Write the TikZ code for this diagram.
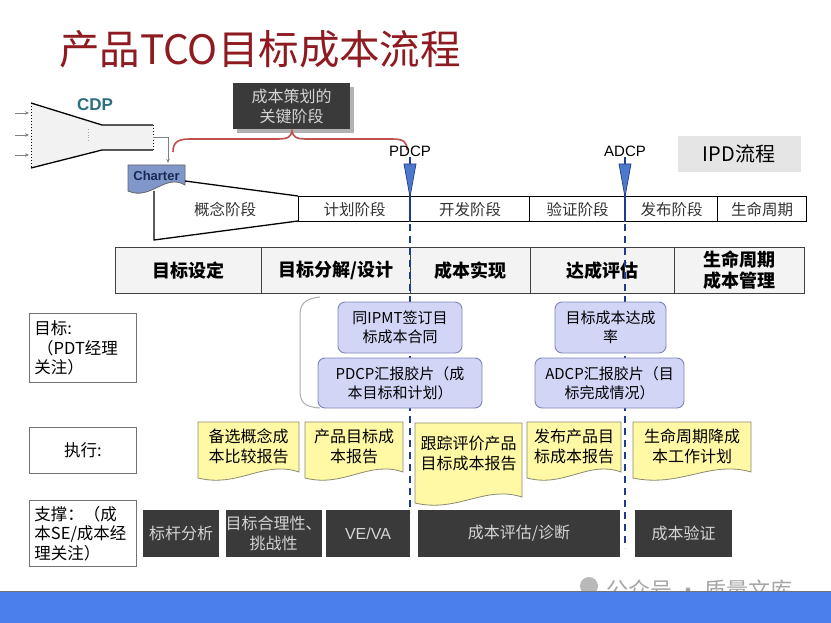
\documentclass[tikz,border=0pt]{standalone}
\usepackage{fontspec}
\setmainfont{Noto Sans CJK SC}
\newfontfamily\arialf{Liberation Sans}
\newcommand\songf{\normalfont}
\usetikzlibrary{arrows.meta}
\definecolor{titlered}{HTML}{8E1B22}
\definecolor{cdpteal}{HTML}{2B6E80}
\definecolor{darkfill}{HTML}{3A3A3A}
\definecolor{darktext}{HTML}{D4D4D4}
\definecolor{lavfill}{HTML}{D3D5F7}
\definecolor{lavline}{HTML}{7F86B5}
\definecolor{docfill}{HTML}{FFF9A6}
\definecolor{docline}{HTML}{8A8A70}
\definecolor{cellfill}{HTML}{F3F3F3}
\definecolor{navy}{HTML}{1F3B8F}
\definecolor{marker}{HTML}{4C7ACB}
\definecolor{charterfill}{HTML}{8097C9}
\definecolor{chartertext}{HTML}{1B2A55}
\definecolor{bandblue}{HTML}{4A7FEC}
\definecolor{bracered}{HTML}{C0504D}
\newcommand\fs[2]{\fontsize{#1}{#2}\selectfont}
% document shape: [style]{xleft}{xright}{ytop}{ybottom}
\newcommand\docshape[5][]{%
  \draw[#1] (#2,#4) -- (#3,#4) -- (#3,{#5-6})
    .. controls ({#3-0.35*(#3-#2)},{#5-18}) and ({#2+0.4*(#3-#2)},{#5+10}) .. (#2,#5) -- cycle;}
\begin{document}
\begin{tikzpicture}[x=1pt,y=-1pt,
  darkbox/.style={fill=darkfill,draw=none,text=darktext,align=center,inner sep=0pt,font=\songf\fs{16}{20}},
  lavbox/.style={fill=lavfill,draw=lavline,line width=0.9pt,rounded corners=7pt,align=center,inner sep=0pt,font=\fs{15}{19}},
  doctext/.style={align=center,inner sep=0pt,font=\fs{16}{20}},
  docstyle/.style={fill=docfill,draw=docline,line width=0.8pt},
  cellbox/.style={fill=cellfill,draw=black!75,line width=0.9pt,align=center,inner sep=0pt,font=\bfseries\fs{18}{21}},
  phasecell/.style={fill=white,draw=black,line width=1.2pt,inner sep=0pt,font=\songf\fs{15.5}{18},text=black!80},
  leftbox/.style={fill=white,draw=black!55,line width=0.9pt,inner sep=4pt,font=\fs{16.5}{19.5}},
  dline/.style={navy,line width=1.4pt,dash pattern=on 7pt off 5pt},
  smallarrow/.style={gray,line width=0.8pt,-{Stealth[length=4pt,width=3.5pt]}}
]
\useasboundingbox (0,0) rectangle (831,623);
\fill[white] (0,0) rectangle (831,623);

% title
\node[anchor=west,inner sep=0pt,text=titlered,font=\fs{40.5}{40.5}] (title) at (59,49) {产品TCO目标成本流程};

% key phase box with shadow
\fill[black!30] (237,87) rectangle (354,133);
\node[darkbox,minimum width=117pt,minimum height=46pt] (keybox) at (291.5,106) {成本策划的\\关键阶段};

% red brace
\draw[bracered,line width=1.6pt]
  (173,152) .. controls (173,142) and (178,139) .. (190,139) -- (278,139)
  .. controls (289,139) and (291,136) .. (292,131)
  .. controls (293,136) and (295,139) .. (306,139) -- (392,139)
  .. controls (404,139) and (407,142) .. (407,150);

% CDP funnel
\fill[gray!10] (31,103) -- (102,125) -- (153,125) -- (153,150) -- (102,150) -- (31,168) -- cycle;
\draw[line width=1.3pt] (31,103) -- (102,125) -- (153,125);
\draw[line width=1.3pt] (31,168) -- (102,150) -- (153,150);
\draw[line width=1pt,dotted] (31,103) -- (31,168);
\draw[line width=1pt,dotted] (153,125) -- (153,150);
\draw[gray!70,line width=0.8pt,dotted] (88,129) -- (88,141);
\node[text=cdpteal,font=\arialf\bfseries\fs{17}{17},inner sep=0pt] (cdp) at (95,105) {CDP};
\coordinate (in1) at (15,113); \coordinate (in2) at (15,135); \coordinate (in3) at (15,155);
\coordinate (fin1) at (29,113); \coordinate (fin2) at (29,135); \coordinate (fin3) at (29,155);
\draw[smallarrow] (in1) -- (fin1);
\draw[smallarrow] (in2) -- (fin2);
\draw[smallarrow] (in3) -- (fin3);
\coordinate (cdpout) at (153,137);

% Charter
\docshape[fill=charterfill,draw=black!60,line width=0.8pt]{128}{185}{165}{191}
\node[text=chartertext,font=\arialf\bfseries\fs{13}{13},inner sep=0pt] (charter) at (156.5,176) {Charter};
\draw[smallarrow] (cdpout) -- (168,137) -- (168,163);

% funnel into phase row
\draw[line width=1.3pt] (185,181) -- (298,196);
\draw[line width=1.3pt] (154,191) -- (154,240) -- (298,221);
\node[font=\songf\fs{15.5}{18},text=black!80,inner sep=0pt] (concept) at (225,210) {概念阶段};

% phase row
\node[phasecell,minimum width=112pt,minimum height=25pt,anchor=north west] (p1) at (298,196) {计划阶段};
\node[phasecell,minimum width=119pt,minimum height=25pt,anchor=north west] (p2) at (410,196) {开发阶段};
\node[phasecell,minimum width=96pt,minimum height=25pt,anchor=north west] (p3) at (529,196) {验证阶段};
\node[phasecell,minimum width=92pt,minimum height=25pt,anchor=north west] (p4) at (625,196) {发布阶段};
\node[phasecell,minimum width=89pt,minimum height=25pt,anchor=north west] (p5) at (717,196) {生命周期};

% IPD box
\node[fill=black!10,minimum width=123pt,minimum height=36pt,inner sep=0pt,font=\fs{20}{20}] (ipd) at (739,154) {IPD流程};

% table row
\node[cellbox,minimum width=146pt,minimum height=46pt,anchor=north west] (c1) at (115,247) {目标设定};
\node[cellbox,minimum width=149pt,minimum height=46pt,anchor=north west] (c2) at (261,247) {目标分解/设计};
\node[cellbox,minimum width=120pt,minimum height=46pt,anchor=north west] (c3) at (410,247) {成本实现};
\node[cellbox,minimum width=144pt,minimum height=46pt,anchor=north west] (c4) at (530,247) {达成评估};
\node[cellbox,minimum width=130pt,minimum height=46pt,anchor=north west] (c5) at (674,247) {生命周期\\成本管理};

% decision point markers and dashed lines
\node[font=\arialf\fs{15}{15},inner sep=0pt] (pdcp) at (410,151) {PDCP};
\node[font=\arialf\fs{15}{15},inner sep=0pt] (adcp) at (625,151) {ADCP};
\coordinate (pdcpend) at (410,512);
\coordinate (adcpend) at (625,548);
\draw[navy,line width=1.4pt] (pdcp.south) -- (410,222);
\draw[navy,line width=1.4pt] (adcp.south) -- (625,222);
\draw[dline] (410,224) -- (pdcpend);
\draw[dline] (625,224) -- (adcpend);
\filldraw[fill=marker,draw=navy,line width=0.7pt] (404,164) -- (416,164) -- (410,197) -- cycle;
\filldraw[fill=marker,draw=navy,line width=0.7pt] (619,164) -- (631,164) -- (625,197) -- cycle;

% left labels
\node[leftbox,minimum width=107pt,minimum height=69pt,anchor=north west,align=left,text width=97pt] (goal) at (29,313) {目标:\\\,（PDT经理\\关注）};
\node[leftbox,minimum width=107pt,minimum height=46pt,anchor=north west,align=center] (exec) at (29,427) {执行:};
\node[leftbox,minimum width=107pt,minimum height=66pt,anchor=north west,align=left,text width=97pt] (support) at (29,500) {支撑：（成\\本SE/成本经\\理关注）};

% grey bracket
\draw[gray!65,line width=1pt] (320,297) .. controls (303,299) and (300,305) .. (300,316) -- (300,390)
  .. controls (300,402) and (304,407) .. (320,408);

% goal boxes
\node[lavbox,minimum width=124pt,minimum height=51pt] (g1) at (400,327.5) {同IPMT签订目\\标成本合同};
\node[lavbox,minimum width=164pt,minimum height=50pt] (g2) at (400,383) {PDCP汇报胶片（成\\本目标和计划）};
\node[lavbox,minimum width=111pt,minimum height=51pt] (g3) at (610.5,327.5) {目标成本达成\\率};
\node[lavbox,minimum width=149pt,minimum height=50pt] (g4) at (609.5,383) {ADCP汇报胶片（目\\标完成情况）};

% execution documents
\docshape[docstyle]{198}{299}{422}{478}
\node[doctext] (r1) at (248.5,446) {备选概念成\\本比较报告};
\docshape[docstyle]{305}{403}{422}{478}
\node[doctext] (r2) at (354,446) {产品目标成\\本报告};
\docshape[docstyle]{415}{522}{423}{503}
\node[doctext] (r3) at (468.5,453) {跟踪评价产品\\目标成本报告};
\docshape[docstyle]{527}{621}{422}{478}
\node[doctext] (r4) at (574,446) {发布产品目\\标成本报告};
\docshape[docstyle]{633}{751}{422}{478}
\node[doctext] (r5) at (692,446) {生命周期降成\\本工作计划};

% support boxes
\node[darkbox,minimum width=76pt,minimum height=47pt] (s1) at (181,533.5) {标杆分析};
\node[darkbox,minimum width=91pt,minimum height=47pt] (s2) at (273.5,533.5) {目标合理性、\\挑战性};
\node[darkbox,minimum width=84pt,minimum height=47pt,font=\arialf\fs{16}{16}] (s3) at (368,533.5) {VE/VA};
\node[darkbox,minimum width=202pt,minimum height=47pt] (s4) at (519,533.5) {成本评估/诊断};
\node[darkbox,minimum width=97pt,minimum height=47pt] (s5) at (683.5,533.5) {成本验证};

% watermark and bottom band
\fill[gray!55] (589,586) circle (9);
\node[anchor=west,text=gray!70,font=\fs{22}{22},inner sep=0pt] (wm) at (606,590) {公众号 · 质量文库};
\draw[black!55,line width=0.8pt] (0,591) -- (831,591);
\fill[bandblue] (0,592) rectangle (831,623);
\end{tikzpicture}
\end{document}
